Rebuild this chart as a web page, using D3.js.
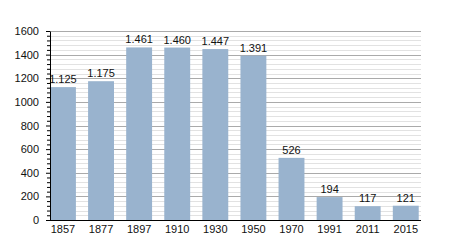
<!DOCTYPE html>
<meta charset="utf-8">
<style>
body { margin: 0; background: #fff; }
text { font-family: "Liberation Sans", Arial, sans-serif; font-size: 11px; fill: #111; }
</style>
<svg width="450" height="250"></svg>
<script src="https://d3js.org/d3.v7.min.js"></script>
<script>

var years = ["1857", "1877", "1897", "1910", "1930", "1950", "1970", "1991", "2011", "2015"];
var population = [1125, 1175, 1461, 1460, 1447, 1391, 526, 194, 117, 121];
var labels = ["1.125", "1.175", "1.461", "1.460", "1.447", "1.391", "526", "194", "117", "121"];
var majorTicks = [0, 200, 400, 600, 800, 1000, 1200, 1400, 1600];

var svg = d3.select("svg");
var plotLeft = 50, plotRight = 421, plotTop = 31, plotBottom = 220;

var x = d3.scaleBand().domain(years).range([plotLeft, plotRight])
    .paddingInner(0.32).paddingOuter(0.03).align(0);
var y = d3.scaleLinear().domain([0, 1600]).range([plotBottom, plotTop]);

var minor = d3.range(0, 1601, 40).filter(function(v) { return v % 200 !== 0; });

// grid
svg.append("g").selectAll("line").data(minor).enter().append("line")
    .attr("x1", plotLeft).attr("x2", plotRight)
    .attr("y1", function(d) { return Math.round(y(d)) + 0.5; })
    .attr("y2", function(d) { return Math.round(y(d)) + 0.5; })
    .attr("stroke", "#e2e2e2");
svg.append("g").selectAll("line").data(majorTicks.slice(1)).enter().append("line")
    .attr("x1", plotLeft).attr("x2", plotRight)
    .attr("y1", function(d) { return Math.round(y(d)) + 0.5; })
    .attr("y2", function(d) { return Math.round(y(d)) + 0.5; })
    .attr("stroke", "#aaaaaa");

// bars
svg.append("g").selectAll("rect").data(population).enter().append("rect")
    .attr("x", function(d, i) { return x(years[i]); })
    .attr("y", function(d) { return y(d); })
    .attr("width", x.bandwidth())
    .attr("height", function(d) { return plotBottom - y(d); })
    .attr("fill", "#99b3ce");

svg.append("g").selectAll("text").data(population).enter().append("text")
    .attr("x", function(d, i) { return x(years[i]) + x.bandwidth() / 2; })
    .attr("y", function(d) { return y(d) - 4; })
    .attr("text-anchor", "middle")
    .text(function(d, i) { return labels[i]; });

// y axis
var yAxis = svg.append("g").attr("transform", "translate(" + plotLeft + ",0)");
yAxis.append("g").call(d3.axisLeft(y).tickValues(minor).tickSize(3).tickFormat(""))
    .call(function(g) { g.select(".domain").remove(); });
yAxis.append("g")
    .call(d3.axisLeft(y).tickValues(majorTicks).tickSize(4).tickSizeOuter(0)
      .tickPadding(7).tickFormat(d3.format("d")));
yAxis.selectAll("g").attr("font-family", null).attr("font-size", null);

// x axis
var xAxis = svg.append("g").attr("transform", "translate(0," + plotBottom + ")")
    .call(d3.axisBottom(x).tickSize(0).tickPadding(5));
xAxis.select(".domain").attr("d", "M" + plotLeft + ",0.5H" + plotRight).attr("stroke", "#000");
xAxis.attr("font-family", null).attr("font-size", null);
</script>
